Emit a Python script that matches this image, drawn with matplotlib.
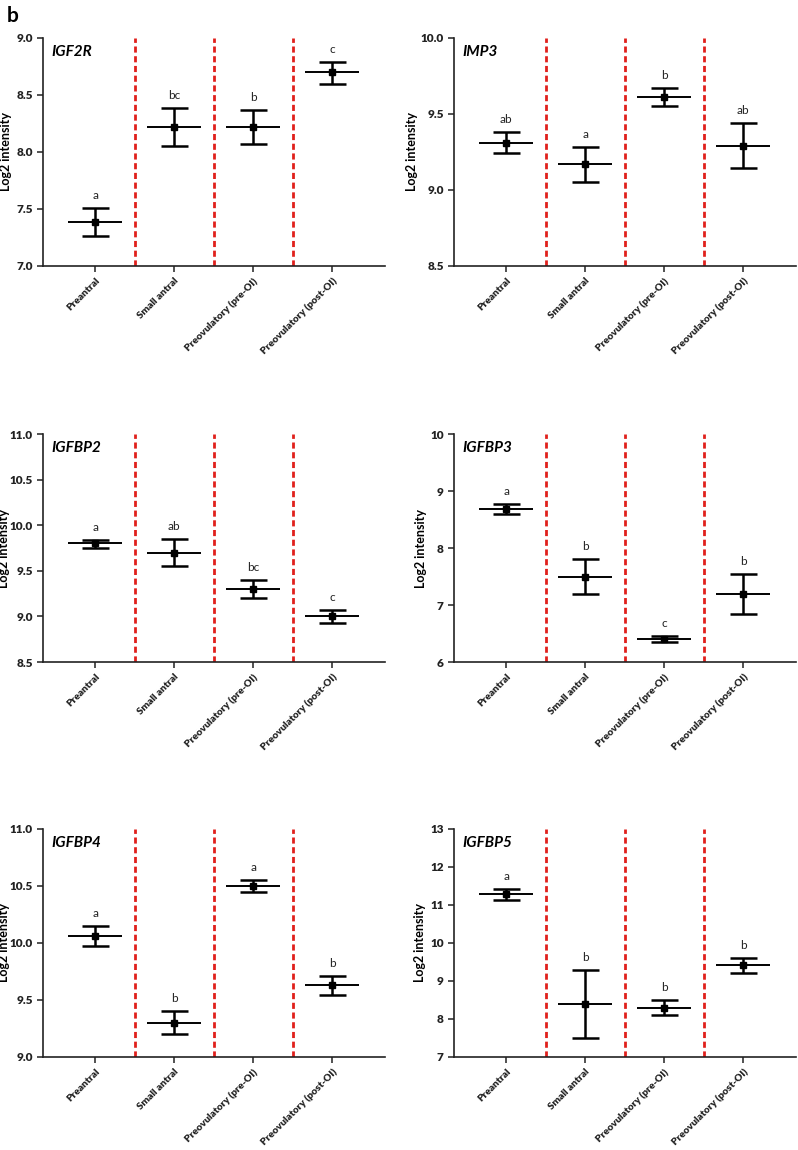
import numpy as np
import matplotlib
matplotlib.use("Agg")
import matplotlib.pyplot as plt

plt.rcParams['font.family'] = ['Lato', 'DejaVu Sans']

groups = ["Preantral", "Small antral", "Preovulatory (pre-OI)", "Preovulatory (post-OI)"]

genes = ["IGF2R", "IMP3", "IGFBP2", "IGFBP3", "IGFBP4", "IGFBP5"]

# mean, upper cap, lower cap per group
igf2r_mean = [7.39, 8.22, 8.22, 8.70]
igf2r_hi = [7.51, 8.39, 8.37, 8.79]
igf2r_lo = [7.26, 8.05, 8.07, 8.60]
igf2r_sig = ["a", "bc", "b", "c"]

imp3_mean = [9.31, 9.17, 9.61, 9.29]
imp3_hi = [9.38, 9.28, 9.67, 9.44]
imp3_lo = [9.24, 9.055, 9.555, 9.145]
imp3_sig = ["ab", "a", "b", "ab"]

igfbp2_mean = [9.80, 9.70, 9.30, 9.00]
igfbp2_hi = [9.84, 9.85, 9.40, 9.07]
igfbp2_lo = [9.75, 9.55, 9.20, 8.93]
igfbp2_sig = ["a", "ab", "bc", "c"]

igfbp3_mean = [8.69, 7.50, 6.40, 7.20]
igfbp3_hi = [8.77, 7.80, 6.45, 7.55]
igfbp3_lo = [8.60, 7.20, 6.35, 6.85]
igfbp3_sig = ["a", "b", "c", "b"]

igfbp4_mean = [10.06, 9.30, 10.50, 9.63]
igfbp4_hi = [10.15, 9.40, 10.55, 9.71]
igfbp4_lo = [9.97, 9.20, 10.45, 9.545]
igfbp4_sig = ["a", "b", "a", "b"]

igfbp5_mean = [11.28, 8.40, 8.29, 9.41]
igfbp5_hi = [11.41, 9.30, 8.50, 9.60]
igfbp5_lo = [11.14, 7.50, 8.10, 9.21]
igfbp5_sig = ["a", "b", "b", "b"]

ylims = [(7.0, 9.0), (8.5, 10.0), (8.5, 11.0), (6, 10), (9.0, 11.0), (7, 13)]
yticks = [np.arange(7.0, 9.01, 0.5), np.arange(8.5, 10.01, 0.5), np.arange(8.5, 11.01, 0.5),
          np.arange(6, 10.1, 1), np.arange(9.0, 11.01, 0.5), np.arange(7, 13.1, 1)]
ytickfmt = ["%.1f", "%.1f", "%.1f", "%d", "%.1f", "%d"]
# horizontal offset of the y label from the axis, in pixels
label_px = [-31, -36, -33, -27, -33, -28]

data = [
    (igf2r_mean, igf2r_hi, igf2r_lo, igf2r_sig),
    (imp3_mean, imp3_hi, imp3_lo, imp3_sig),
    (igfbp2_mean, igfbp2_hi, igfbp2_lo, igfbp2_sig),
    (igfbp3_mean, igfbp3_hi, igfbp3_lo, igfbp3_sig),
    (igfbp4_mean, igfbp4_hi, igfbp4_lo, igfbp4_sig),
    (igfbp5_mean, igfbp5_hi, igfbp5_lo, igfbp5_sig),
]

fig = plt.figure(figsize=(7.98, 11.5), dpi=100)

lefts = [0.054, 0.569]
bottoms = [0.7687, 0.4243, 0.0809]
w, h = 0.4286, 0.1983
ax_w_px = w * 798

x = np.arange(len(groups))
for i, (gene, (mean, hi, lo, sig)) in enumerate(zip(genes, data)):
    ax = fig.add_axes([lefts[i % 2], bottoms[i // 2], w, h])
    mean = np.array(mean)
    hi = np.array(hi)
    lo = np.array(lo)

    for d in [0.5, 1.5, 2.5]:
        ax.axvline(d, color="#e0201c", lw=2.0, ls=(0, (2.2, 1.3)), zorder=1)

    ax.hlines(mean, x - 0.34, x + 0.34, color="black", lw=1.4, zorder=3)
    ax.vlines(x, lo, hi, color="black", lw=1.8, zorder=3)
    ax.hlines(hi, x - 0.17, x + 0.17, color="black", lw=1.8, zorder=3)
    ax.hlines(lo, x - 0.17, x + 0.17, color="black", lw=1.8, zorder=3)
    ax.plot(x, mean, "s", color="black", ms=4.5, zorder=4)

    for xi, yi, s in zip(x, hi, sig):
        ax.annotate(s, (xi, yi), xytext=(0, 5), textcoords="offset points",
                    ha="center", va="bottom", fontsize=8.5, color="#222222")

    ax.set_xlim(-0.66, 3.67)
    ax.set_ylim(*ylims[i])
    ax.set_yticks(yticks[i])
    ax.set_yticklabels([ytickfmt[i] % v for v in yticks[i]], fontsize=8.5, fontweight="heavy")
    ax.set_xticks(x)
    ax.set_xticklabels(groups, rotation=45, ha="right", rotation_mode="anchor",
                       fontsize=7.3, fontweight="heavy")
    ax.set_ylabel("Log2 intensity", fontsize=9, fontweight="bold")
    ax.yaxis.set_label_coords(label_px[i] / ax_w_px, 0.5)
    ax.text(0.025, 0.97, gene, transform=ax.transAxes, ha="left", va="top",
            fontsize=11, fontweight="bold", style="italic")

    for side in ["top", "right"]:
        ax.spines[side].set_visible(False)
    for side in ["left", "bottom"]:
        ax.spines[side].set_linewidth(1.2)
        ax.spines[side].set_color("#222222")
    ax.tick_params(direction="out", length=4, width=1.1, colors="#222222")

fig.text(0.008, 0.995, "b", fontsize=15, fontweight="bold", ha="left", va="top")

fig.savefig("out.png", dpi=100)
